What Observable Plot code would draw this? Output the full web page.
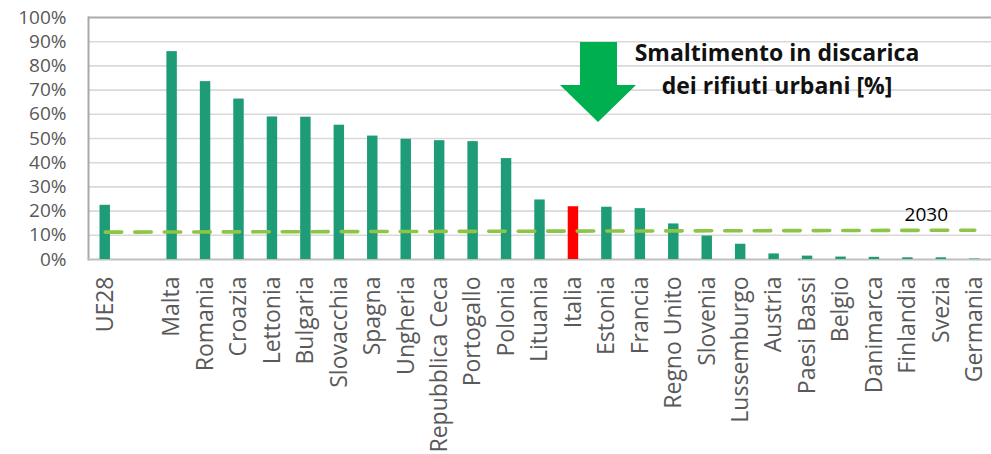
<!DOCTYPE html>
<html>
<head>
<meta charset="utf-8">
<script src="https://cdn.jsdelivr.net/npm/d3@7"></script>
<script src="https://cdn.jsdelivr.net/npm/@observablehq/plot@0.6"></script>
<style>
  html, body { margin: 0; padding: 0; background: #fff; }
  #wrap { position: relative; width: 991px; height: 454px; overflow: hidden; font-family: "Open Sans", sans-serif; }
  #title { position: absolute; left: 607px; top: 36px; width: 340px; text-align: center;
           font-family: "Open Sans", sans-serif; font-weight: 700; font-size: 23px; line-height: 33px; color: #111; }
  #arrow { position: absolute; left: 0; top: 0; }
</style>
</head>
<body>
<div id="wrap"></div>
<script>
// Categories (empty string = gap after UE28)
const categories = ["UE28", "", "Malta", "Romania", "Croazia", "Lettonia", "Bulgaria", "Slovacchia", "Spagna",
  "Ungheria", "Repubblica Ceca", "Portogallo", "Polonia", "Lituania", "Italia", "Estonia", "Francia",
  "Regno Unito", "Slovenia", "Lussemburgo", "Austria", "Paesi Bassi", "Belgio", "Danimarca", "Finlandia",
  "Svezia", "Germania"];
// Landfill share of municipal waste [%]
const values = [22.4, null, 85.9, 73.5, 66.3, 58.9, 58.8, 55.5, 51.0, 49.7, 49.1, 48.7, 41.7, 24.6,
  21.8, 21.6, 21.0, 14.7, 9.7, 6.3, 2.3, 1.4, 1.0, 0.9, 0.7, 0.7, 0.2];
const highlight = "Italia";
// 2030 target line (as drawn: slightly sloped dashed line)
const targetCats = ["UE28", "Germania"];
const targetValues = [11.3, 12.1];
const targetLabel = "2030";
const yTicks = [0, 10, 20, 30, 40, 50, 60, 70, 80, 90, 100];
const titleLines = ["Smaltimento in discarica", "dei rifiuti urbani [%]"];

const data = categories.map((c, i) => ({cat: c, value: values[i]})).filter(d => d.value != null);
const target = targetCats.map((c, i) => ({cat: c, value: targetValues[i]}));

const GREEN = "#1e9b77", RED = "#ff0000";

const chart = Plot.plot({
  width: 991,
  height: 454,
  marginLeft: 88,
  marginRight: 0,
  marginTop: 17,
  marginBottom: 195,
  style: {fontFamily: "'Open Sans', sans-serif", background: "#fff"},
  x: {type: "band", domain: categories, padding: 0, round: false, label: null},
  y: {domain: [0, 100], label: null},
  marks: [
    Plot.ruleY(yTicks.filter(t => t > 0 && t < 100), {stroke: "#d9d9d9", strokeWidth: 1.6}),
    Plot.ruleY([100], {stroke: "#a9a9a9", strokeWidth: 2}),
    Plot.frame({anchor: "left", stroke: "#a9a9a9", strokeWidth: 2}),
    Plot.ruleY([0], {stroke: "#bfbfbf", strokeWidth: 2}),
    Plot.barY(data, {x: "cat", y: "value", fill: d => d.cat === highlight ? RED : GREEN, insetLeft: 11.5, insetRight: 11.5}),
    Plot.lineY(target, {x: "cat", y: "value", stroke: "#8dc546", strokeWidth: 3.6, strokeDasharray: "16.5,13"}),
    Plot.text([target[target.length - 1]], {x: () => "Svezia", y: "value", text: () => targetLabel, dx: -15, dy: -9,
      lineAnchor: "bottom", fontSize: 19, fill: "#000"}),
    Plot.axisY({ticks: yTicks, tickFormat: d => d + "%", tickSize: 0, tickPadding: 22, fontSize: 19, color: "#595959"}),
    Plot.axisX({tickRotate: -90, tickSize: 0, tickPadding: 17, fontSize: 23, color: "#595959", tickFormat: d => d})
  ]
});

const wrap = document.getElementById("wrap");
wrap.appendChild(chart);

// Decorative down arrow annotation
const ns = "http://www.w3.org/2000/svg";
const svg = document.createElementNS(ns, "svg");
svg.setAttribute("id", "arrow");
svg.setAttribute("width", 991);
svg.setAttribute("height", 454);
const path = document.createElementNS(ns, "path");
path.setAttribute("d", "M580,42 H617 V85 H636 L598,122 L560,85 H580 Z");
path.setAttribute("fill", "#00b050");
svg.appendChild(path);
wrap.appendChild(svg);

const title = document.createElement("div");
title.id = "title";
title.innerHTML = titleLines.join("<br>");
wrap.appendChild(title);
</script>
</body>
</html>
